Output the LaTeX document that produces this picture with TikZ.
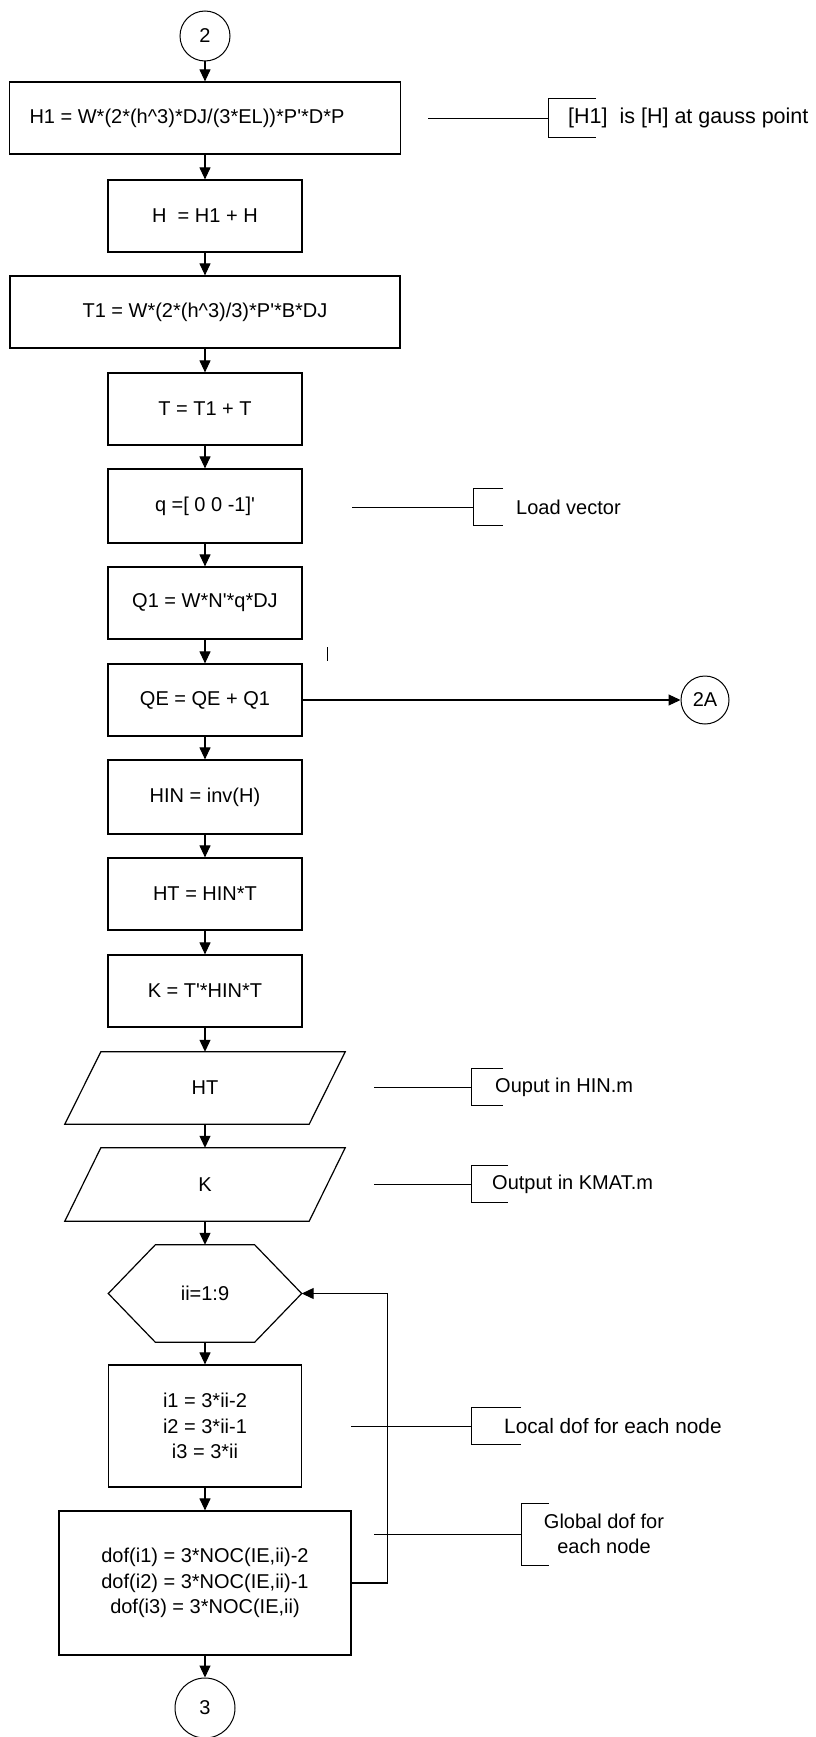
\documentclass[tikz,border=0pt]{standalone}
\usepackage{fontspec}
\setmainfont{Liberation Sans}
\usetikzlibrary{arrows.meta,calc}
\begin{document}
\begin{tikzpicture}[x=1pt,y=-1pt,
  every node/.style={font=\fontsize{20}{25.5}\selectfont},
  proc/.style={draw, rectangle, line width=1.2pt, minimum width=194pt, minimum height=72pt, inner sep=0pt},
  wide/.style={proc, minimum width=391pt},
  conn/.style={draw, circle, line width=1pt, inner sep=0pt},
  ghost/.style={rectangle, draw=none, inner sep=0pt},
  outline/.style={line width=1.2pt},
  flow/.style={line width=1.1pt, -{Triangle[width=11pt,length=12pt]}},
  link/.style={line width=1pt},
  note/.style={anchor=west, inner sep=0pt}
]
\useasboundingbox (0,0) rectangle (816,1737);

% main column
\node[conn, minimum size=50pt] (c2) at (205,36) {2};
\node[wide] (h1) at (205,118) {H1 = W*(2*(h\textasciicircum 3)*DJ/(3*EL))*P\textquotesingle*D*P\hspace*{36pt}};
\node[proc] (h) at (205,216) {H\ \ = H1 + H};
\node[wide, minimum width=390pt] (t1) at (205,312) {T1 = W*(2*(h\textasciicircum 3)/3)*P\textquotesingle*B*DJ};
\node[proc] (t) at (205,409) {T = T1 + T};
\node[proc, minimum height=74pt] (q) at (205,506) {q =[ 0 0 -1]\textquotesingle};
\node[proc] (q1) at (205,603) {Q1 = W*N\textquotesingle*q*DJ};
\node[proc] (qe) at (205,700) {QE = QE + Q1};
\node[proc, minimum height=74pt] (hin) at (205,797) {HIN = inv(H)};
\node[proc] (ht) at (205,894) {HT = HIN*T};
\node[proc] (k) at (205,991) {K = T\textquotesingle*HIN*T};
\node[ghost, minimum width=280pt, minimum height=72pt] (htout) at (205,1088) {HT};
\node[ghost, minimum width=280pt, minimum height=73pt] (kout) at (205,1184.5) {K};
\node[ghost, minimum width=193pt, minimum height=97pt] (loop) at (205,1293.5) {ii=1:9};
\node[proc, minimum width=193pt, minimum height=122pt, align=center] (ib) at (205,1426) {i1 = 3*ii-2\\i2 = 3*ii-1\\i3 = 3*ii};
\node[proc, minimum width=292pt, minimum height=144pt, align=center] (dof) at (205,1583) {dof(i1) = 3*NOC(IE,ii)-2\\dof(i2) = 3*NOC(IE,ii)-1\\dof(i3) = 3*NOC(IE,ii)};
\node[conn, minimum size=60pt] (c3) at (205,1708) {3};
\node[conn, minimum size=48pt] (c2a) at (705,700) {2A};

% parallelograms and hexagon
\draw[outline] ([xshift=36pt]htout.north west) -- (htout.north east) -- ([xshift=-36pt]htout.south east) -- (htout.south west) -- cycle;
\draw[outline] ([xshift=36pt]kout.north west) -- (kout.north east) -- ([xshift=-36pt]kout.south east) -- (kout.south west) -- cycle;
\draw[outline] ([xshift=47pt]loop.north west) -- ([xshift=-47pt]loop.north east) -- (loop.east) -- ([xshift=-47pt]loop.south east) -- ([xshift=47pt]loop.south west) -- (loop.west) -- cycle;

% flow arrows
\foreach \a/\b in {c2/h1,h1/h,h/t1,t1/t,t/q,q/q1,q1/qe,qe/hin,hin/ht,ht/k,k/htout,htout/kout,kout/loop,loop/ib,ib/dof,dof/c3}
  \draw[flow] (\a) -- (\b);
\draw[flow] (qe) -- (c2a);
\draw[flow] (dof.east) -- ++(36,0) |- (loop.east);

% stray mark
\draw[line width=1pt] (327,647) -- (327,661);

% annotations
\coordinate (a1) at (428,118); \coordinate (b1) at (548,118);
\draw[link] (a1) -- (b1);
\draw[link] (b1) ++(48,-19.5) -- ++(-48,0) -- ++(0,39) -- ++(48,0);
\node[note, font=\fontsize{21.5}{26}\selectfont] (n1) at (568,118) {[H1]\ \ is [H] at gauss point};

\coordinate (a2) at (352,507); \coordinate (b2) at (473,507);
\draw[link] (a2) -- (b2);
\draw[link] (b2) ++(30,-18.5) -- ++(-30,0) -- ++(0,37) -- ++(30,0);
\node[note] (n2) at (516,507) {Load vector};

\coordinate (a3) at (374,1087); \coordinate (b3) at (471,1087);
\draw[link] (a3) -- (b3);
\draw[link] (b3) ++(32,-18.5) -- ++(-32,0) -- ++(0,37) -- ++(32,0);
\node[note] (n3) at (495,1087) {Ouput in HIN.m};

\coordinate (a4) at (374,1184); \coordinate (b4) at (471,1184);
\draw[link] (a4) -- (b4);
\draw[link] (b4) ++(37,-18.5) -- ++(-37,0) -- ++(0,37) -- ++(37,0);
\node[note] (n4) at (492,1184) {Output in KMAT.m};

\coordinate (a5) at (351,1426); \coordinate (b5) at (471,1426);
\draw[link] (a5) -- (b5);
\draw[link] (b5) ++(50,-18.5) -- ++(-50,0) -- ++(0,37) -- ++(50,0);
\node[note, font=\fontsize{20.8}{25.5}\selectfont] (n5) at (504,1426) {Local dof for each node};

\coordinate (a6) at (374,1534); \coordinate (b6) at (521,1534);
\draw[link] (a6) -- (b6);
\draw[link] (b6) ++(28,-31) -- ++(-28,0) -- ++(0,62) -- ++(28,0);
\node[align=center, inner sep=0pt] (n6) at (604,1534) {Global dof for\\each node};
\end{tikzpicture}
\end{document}
